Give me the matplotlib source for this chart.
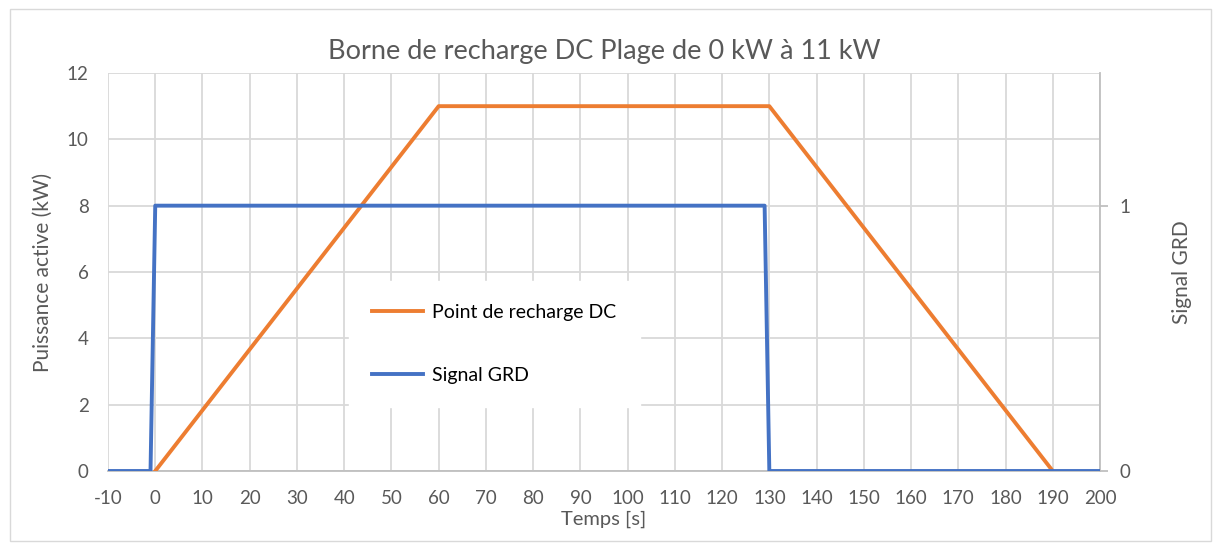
import matplotlib.pyplot as plt
from matplotlib.patches import Rectangle

# data
charge_t = [0, 60, 130, 190]
charge_kw = [0, 11, 11, 0]
grd_t = [-10, -1, 0, 129, 130, 200]
grd_signal = [0, 0, 1, 1, 0, 0]

x_ticks = list(range(-10, 201, 10))
y_ticks = list(range(0, 13, 2))
y2_ticks = [0, 1]

ORANGE = "#ED7D31"
BLUE = "#4472C4"
TEXT = "#595959"
GRID = "#D9D9D9"

plt.rcParams["font.family"] = ["Lato", "DejaVu Sans"]
plt.rcParams["axes.unicode_minus"] = False

fig = plt.figure(figsize=(12.13, 5.43), dpi=100)
ax = fig.add_axes([108 / 1213, 1 - 471 / 543, (1100 - 108) / 1213, (471 - 73) / 543])
ax2 = ax.twinx()

ax.plot(charge_t, charge_kw, color=ORANGE, lw=2.8, label="Point de recharge DC", zorder=3)
ax2.plot(grd_t, grd_signal, color=BLUE, lw=2.8, label="Signal GRD", zorder=3)

ax.set_xlim(-10, 200)
ax.set_ylim(0, 12)
ax2.set_ylim(0, 1.5)
ax.set_xticks(x_ticks)
ax.set_yticks(y_ticks)
ax2.set_yticks(y2_ticks)

ax.grid(True, color=GRID, lw=1.3)
ax.set_axisbelow(True)
for a in (ax, ax2):
    for side in ("top", "left", "right", "bottom"):
        a.spines[side].set_visible(False)
ax2.spines["right"].set_visible(True)
ax2.spines["right"].set_color("#BFBFBF")
ax2.spines["right"].set_linewidth(1.3)
ax.spines["bottom"].set_visible(True)
ax.spines["bottom"].set_color("#BFBFBF")
ax.spines["bottom"].set_linewidth(1.3)

ax.tick_params(axis="x", length=0, labelsize=13.5, colors=TEXT, pad=14)
ax.tick_params(axis="y", length=0, labelsize=13.5, colors=TEXT, pad=14)
ax2.tick_params(axis="y", length=6, width=1.3, color="#BFBFBF", labelsize=13.5,
                labelcolor=TEXT, pad=8)

ax.set_xlabel("Temps [s]", fontsize=14.5, color=TEXT, labelpad=2)
ax.set_ylabel("Puissance active (kW)", fontsize=15, color=TEXT, labelpad=10)
ax2.set_ylabel("Signal GRD", fontsize=15, color=TEXT, labelpad=30)
ax.set_title("Borne de recharge DC Plage de 0 kW à 11 kW", fontsize=19.5, color=TEXT, pad=10)

h1, l1 = ax.get_legend_handles_labels()
h2, l2 = ax2.get_legend_handles_labels()
leg = ax2.legend(h1 + h2, l1 + l2, loc="upper left",
                 bbox_to_anchor=((339 - 108) / 992, (471 - 271) / 398),
                 frameon=True, fontsize=14, handlelength=2.6, handletextpad=0.5,
                 labelspacing=2.35, borderpad=1.2, fancybox=False)
leg.get_frame().set_edgecolor("white")
leg.get_frame().set_facecolor("white")
leg.get_frame().set_alpha(1)

fig.patches.append(Rectangle((0.008, 0.004), 0.99, 0.98, transform=fig.transFigure,
                             fill=False, edgecolor="#D9D9D9", lw=1))

fig.savefig("out.png", dpi=100)
